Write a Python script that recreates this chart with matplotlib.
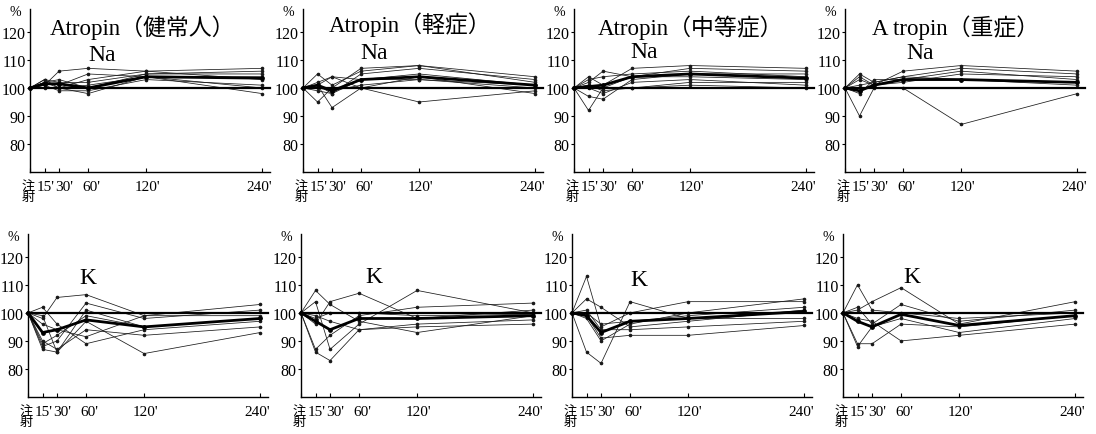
import matplotlib
matplotlib.use('Agg')
import matplotlib.pyplot as plt
import matplotlib.transforms as mtransforms

# フォント: 欧文は明朝風のセリフ体、和文は CJK にフォールバック
plt.rcParams['font.family'] = ['Liberation Serif', 'Noto Sans CJK JP']

# 時間 (分)
times = [0, 15, 30, 60, 120, 240]
tick_labels = ['注\n射', "15'", "30'", "60'", "120'", "240'"]
yticks = [80, 90, 100, 110, 120]

titles = ['Atropin（健常人）', 'Atropin（軽症）', 'Atropin（中等症）', 'A tropin（重症）']

# Na (上段) 各症例と平均
na_normal = [
    [100, 101, 106, 107, 106, 107],
    [100, 103, 100, 98, 104, 98],
    [100, 102, 103, 100, 105, 105],
    [100, 102, 101, 105, 104, 104],
    [100, 101, 99, 99, 103, 101],
    [100, 103, 102, 102, 105, 106],
    [100, 102, 100, 101, 104, 100],
    [100, 100, 100, 103, 106, 103],
]
na_normal_mean = [100, 101.5, 101.5, 100, 104, 103.5]

na_mild = [
    [100, 105, 101, 106, 108, 104],
    [100, 95, 100, 107, 108, 102],
    [100, 101, 93, 100, 95, 99],
    [100, 101, 104, 103, 103, 101],
    [100, 99, 98, 105, 107, 103],
    [100, 102, 104, 100, 104, 98],
    [100, 100, 99, 101, 103, 100],
    [100, 101, 98, 103, 105, 101],
]
na_mild_mean = [100, 101, 99, 103, 104, 101]

na_moderate = [
    [100, 104, 101, 107, 108, 107],
    [100, 92, 100, 104, 107, 106],
    [100, 97, 96, 103, 105, 105],
    [100, 102, 106, 104, 104, 103],
    [100, 101, 99, 100, 102, 102],
    [100, 103, 104, 105, 106, 104],
    [100, 100, 98, 102, 103, 101],
    [100, 101, 100, 100, 101, 100],
]
na_moderate_mean = [100, 100.5, 101, 104, 105, 103.5]

na_severe = [
    [100, 90, 100, 100, 87, 98],
    [100, 104, 101, 106, 108, 106],
    [100, 105, 102, 104, 107, 105],
    [100, 98, 103, 103, 106, 103],
    [100, 99, 101, 103, 103, 102],
    [100, 103, 101, 102, 105, 104],
    [100, 101, 102, 104, 103, 101],
]
na_severe_mean = [100, 99, 101, 103, 103, 102]

# K (下段) 各症例と平均
k_normal = [
    [100, 98, 105.5, 106.5, 99, 103],
    [100, 87, 86, 101, 95, 98],
    [100, 88, 90, 103.5, 98, 101],
    [100, 102, 96, 89, 94, 97],
    [100, 96, 94, 91.5, 99, 99],
    [100, 90, 87, 94, 92, 95],
    [100, 99, 86, 97, 85.5, 93],
    [100, 89, 92, 99, 95, 98],
]
k_normal_mean = [100, 93, 94, 97.5, 95, 98]

k_mild = [
    [100, 108, 103, 97, 93, 99],
    [100, 104, 87, 96, 108, 100],
    [100, 86, 83, 94, 96, 97.5],
    [100, 96, 104, 107, 98, 101],
    [100, 87, 92, 99, 102, 103.5],
    [100, 99, 97, 94, 95, 96],
    [100, 98, 100, 100, 99, 99.5],
]
k_mild_mean = [100, 97, 94, 98, 98, 99]

k_moderate = [
    [100, 113, 95, 100, 104, 104],
    [100, 105, 102, 95, 97, 101],
    [100, 86, 82, 104, 98, 98],
    [100, 98, 90, 96, 100, 105],
    [100, 99, 91, 92, 92, 95.5],
    [100, 101, 94, 94, 95, 97],
    [100, 100, 96, 97, 99, 102],
]
k_moderate_mean = [100, 99, 93, 97, 98, 100.5]

k_severe = [
    [100, 110, 101, 100, 98, 100],
    [100, 102, 96, 103, 97, 101],
    [100, 88, 95, 98, 93, 98],
    [100, 89, 89, 96, 95, 99],
    [100, 101, 104, 109, 96, 104],
    [100, 98, 97, 90, 92, 96],
]
k_severe_mean = [100, 97, 95, 99.5, 95.5, 99]

na_sets = [(na_normal, na_normal_mean), (na_mild, na_mild_mean),
           (na_moderate, na_moderate_mean), (na_severe, na_severe_mean)]
k_sets = [(k_normal, k_normal_mean), (k_mild, k_mild_mean),
          (k_moderate, k_moderate_mean), (k_severe, k_severe_mean)]

# 見出しの位置 (データ座標)
title_pos = [(116, 122), (111, 123), (120, 122), (114, 122)]
na_pos = [(75, 112), (73, 112.5), (72, 113), (78, 112.5)]
k_pos = [(62, 112.5), (75, 113), (69, 112), (71, 113)]

W, H = 1096, 435
fig = plt.figure(figsize=(W / 100, H / 100), dpi=100)

col_left = [30, 303, 574, 845]  # 各列の y 軸の位置 (px)
ax_w = 240 / W
ax_h = 0.374

# 目盛ラベルの横ずらし (pt) -- 15' と 30' が重ならないように
label_shift = [-1.0, 1.0, 3.6, 2.2, 1.0, -2.0]


def draw_panel(ax, cases, mean):
    for vals in cases:
        ax.plot(times, vals, color='#1a1a1a', lw=0.55, marker='o', ms=1.6,
                clip_on=False)
    # 基準線 100%
    ax.plot([0, 248], [100, 100], color='black', lw=1.6, clip_on=False)
    # 平均値 (太線)
    ax.plot(times, mean, color='black', lw=2.0, marker='o', ms=2.4,
            clip_on=False)
    ax.set_xlim(0, 248)
    ax.set_ylim(70, 128)
    ax.set_yticks(yticks)
    ax.set_xticks(times)
    ax.set_xticklabels(tick_labels, fontsize=11, linespacing=0.8)
    ax.tick_params(axis='x', direction='in', length=3, pad=6)
    ax.tick_params(axis='y', direction='out', length=2, labelsize=11.5, pad=1)
    labels = ax.get_xticklabels()
    labels[0].set_fontsize(9.5)
    for lab, dx in zip(labels, label_shift):
        off = mtransforms.ScaledTranslation(dx / 72, 0, fig.dpi_scale_trans)
        lab.set_transform(lab.get_transform() + off)
    for s in ['top', 'right']:
        ax.spines[s].set_visible(False)
    for s in ['left', 'bottom']:
        ax.spines[s].set_linewidth(1.0)
    # 単位 % は y 軸の上端に
    ax.text(-0.06, 0.985, '%', transform=ax.transAxes, ha='center',
            va='center', fontsize=10)


for i in range(4):
    # 上段 Na
    ax = fig.add_axes([col_left[i] / W, 0.602, ax_w, ax_h])
    draw_panel(ax, *na_sets[i])
    ax.text(*title_pos[i], titles[i], ha='center', va='center', fontsize=16.5)
    ax.text(*na_pos[i], 'Na', ha='center', va='center', fontsize=17)

    # 下段 K
    ax = fig.add_axes([(col_left[i] - 2) / W, 0.085, ax_w, ax_h])
    draw_panel(ax, *k_sets[i])
    ax.text(*k_pos[i], 'K', ha='center', va='center', fontsize=17)

fig.savefig('out.png', dpi=100)
